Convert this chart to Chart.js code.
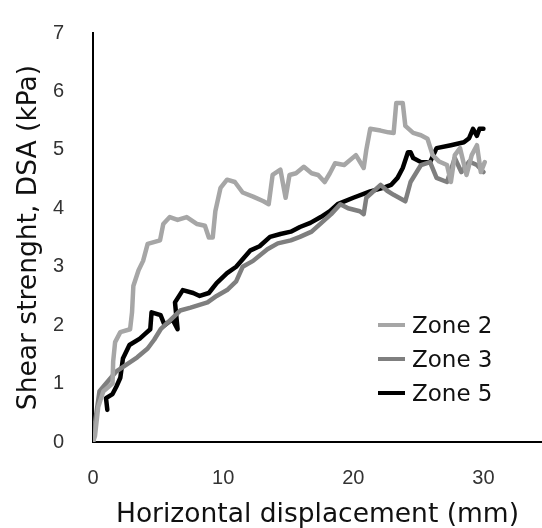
<!DOCTYPE html>
<html>
<head>
<meta charset="utf-8">
<script src="https://cdn.jsdelivr.net/npm/chart.js@4"></script>
<style>
  body { margin: 0; background: #fff; }
  #wrap { position: relative; width: 542px; height: 528px; }
  #legend { position: absolute; left: 378px; top: 308px; font-family: "DejaVu Sans", sans-serif; font-size: 23px; color: #111; }
  #legend div { height: 34px; display: flex; align-items: center; }
  #legend span.swatch { display: inline-block; width: 27px; height: 4px; margin-right: 7px; }
</style>
</head>
<body>
<div id="wrap">
  <canvas id="myChart" width="542" height="528"></canvas>
  <div id="legend"></div>
</div>
<script>
'use strict';
// [displacement (mm), shear strength (kPa)]
let zone2 = [[0, 0], [0.15, 0.1], [0.4, 0.6], [0.8, 0.87], [1.5, 1.0], [1.55, 1.38], [1.7, 1.71], [2.1, 1.88], [2.85, 1.93], [3.0, 2.22], [3.1, 2.67], [3.5, 2.94], [3.85, 3.1], [4.2, 3.39], [5.15, 3.45], [5.4, 3.73], [5.9, 3.85], [6.5, 3.8], [7.2, 3.85], [8.0, 3.73], [8.6, 3.7], [8.9, 3.5], [9.2, 3.5], [9.4, 3.95], [9.8, 4.35], [10.3, 4.49], [10.9, 4.45], [11.5, 4.27], [12.3, 4.2], [13.1, 4.12], [13.5, 4.07], [13.8, 4.57], [14.4, 4.66], [14.8, 4.18], [15.1, 4.57], [15.6, 4.6], [16.2, 4.71], [16.8, 4.6], [17.3, 4.57], [17.8, 4.45], [18.2, 4.6], [18.6, 4.77], [19.3, 4.74], [20.2, 4.91], [20.8, 4.69], [21.0, 5.0], [21.3, 5.36], [22.1, 5.33], [22.7, 5.3], [23.1, 5.29], [23.3, 5.8], [23.8, 5.8], [24.0, 5.41], [24.6, 5.29], [25.2, 5.25], [25.7, 5.19], [26.1, 4.91], [26.6, 4.8], [27.2, 4.74], [27.5, 4.45], [27.8, 4.91], [28.2, 5.03], [28.7, 4.57], [29.1, 4.91], [29.5, 5.08], [29.8, 4.62], [30.1, 4.79]];
let zone3 = [[0, 0], [0.2, 0.4], [0.5, 0.87], [1.0, 1.0], [1.8, 1.21], [2.6, 1.33], [3.4, 1.45], [4.2, 1.6], [4.7, 1.75], [5.2, 1.93], [6.0, 2.1], [6.7, 2.25], [7.5, 2.3], [8.8, 2.39], [9.5, 2.5], [10.3, 2.6], [11.0, 2.75], [11.5, 3.0], [12.3, 3.1], [13.4, 3.3], [14.2, 3.4], [15.2, 3.45], [15.9, 3.51], [16.8, 3.6], [17.7, 3.78], [18.3, 3.9], [19.0, 4.07], [19.6, 4.0], [20.5, 3.95], [20.8, 3.9], [21.0, 4.18], [22.1, 4.4], [22.6, 4.3], [23.1, 4.23], [24.0, 4.12], [24.4, 4.45], [25.2, 4.74], [25.9, 4.79], [26.4, 4.52], [27.2, 4.45], [27.8, 4.86], [28.3, 4.62], [28.9, 4.8], [29.5, 4.74], [30.0, 4.62]];
let zone5 = [[1.1, 0.55], [1.0, 0.75], [1.5, 0.82], [1.8, 0.95], [2.1, 1.1], [2.3, 1.43], [2.8, 1.66], [3.6, 1.77], [4.0, 1.85], [4.4, 1.93], [4.5, 2.22], [5.2, 2.17], [5.5, 2.0], [6.1, 2.1], [6.5, 1.93], [6.3, 2.39], [6.9, 2.6], [7.7, 2.55], [8.2, 2.5], [8.9, 2.55], [9.5, 2.72], [10.3, 2.89], [11.0, 3.0], [12.1, 3.28], [12.8, 3.35], [13.6, 3.51], [14.4, 3.56], [15.2, 3.6], [15.9, 3.68], [16.7, 3.75], [17.5, 3.85], [18.2, 3.95], [18.8, 4.07], [20.0, 4.18], [21.3, 4.29], [22.3, 4.35], [22.9, 4.4], [23.4, 4.52], [23.8, 4.69], [24.2, 4.96], [24.4, 4.96], [24.6, 4.86], [25.2, 4.79], [25.9, 4.79], [26.4, 5.03], [27.5, 5.08], [28.5, 5.13], [28.9, 5.2], [29.2, 5.36], [29.5, 5.24], [29.7, 5.36], [30.0, 5.36]];

let seriesNames = ['Zone 2', 'Zone 3', 'Zone 5'];
let seriesData = [zone2, zone3, zone5];
let seriesColors = ['#a6a6a6', '#7f7f7f', '#000000'];
let xTicks = [0, 10, 20, 30];

let datasets = [];
for (let i = 0; i < seriesNames.length; i++) {
    datasets.push({
        label: seriesNames[i],
        data: seriesData[i].map(p => ({ x: p[0], y: p[1] })),
        borderColor: seriesColors[i],
        backgroundColor: seriesColors[i],
        borderWidth: 4.5,
        borderJoinStyle: 'round',
        borderCapStyle: 'round',
        pointRadius: 0,
        showLine: true,
        tension: 0
    });
}

// legend inside the plot, as html
let legendEl = document.getElementById('legend');
for (let i = 0; i < seriesNames.length; i++) {
    let row = document.createElement('div');
    let sw = document.createElement('span');
    sw.className = 'swatch';
    sw.style.background = seriesColors[i];
    row.appendChild(sw);
    row.appendChild(document.createTextNode(seriesNames[i]));
    legendEl.appendChild(row);
}

let ctx = document.getElementById('myChart').getContext('2d');
let myChart = new Chart(ctx, {
    type: 'scatter',
    data: { datasets: datasets },
    options: {
        responsive: false,
        animation: false,
        devicePixelRatio: 1,
        layout: { padding: { top: 25, right: 0, bottom: 0, left: 0 } },
        plugins: { legend: { display: false }, tooltip: { enabled: false } },
        scales: {
            x: {
                min: 0,
                max: 34.5,
                grid: { display: false },
                border: { display: true, color: '#000', width: 2 },
                afterBuildTicks: s => { s.ticks = xTicks.map(v => ({ value: v })); },
                afterFit: s => { s.height = 86; },
                ticks: { padding: 16, color: '#333', font: { family: 'Liberation Sans', size: 20 } },
                title: {
                    display: true,
                    text: 'Horizontal displacement (mm)',
                    color: '#111',
                    padding: { top: 0, bottom: 0 },
                    font: { family: 'DejaVu Sans', size: 26.5, lineHeight: 1.0 }
                }
            },
            y: {
                min: 0,
                max: 7,
                grid: { display: false },
                border: { display: true, color: '#000', width: 2 },
                afterFit: s => { s.width = 93; },
                ticks: { stepSize: 1, padding: 21, color: '#333', font: { family: 'Liberation Sans', size: 20 } },
                title: {
                    display: true,
                    text: 'Shear strenght, DSA (kPa)',
                    color: '#111',
                    padding: { top: 15, bottom: 0 },
                    font: { family: 'DejaVu Sans', size: 26.5, lineHeight: 1.1 }
                }
            }
        }
    }
});
</script>
</body>
</html>
